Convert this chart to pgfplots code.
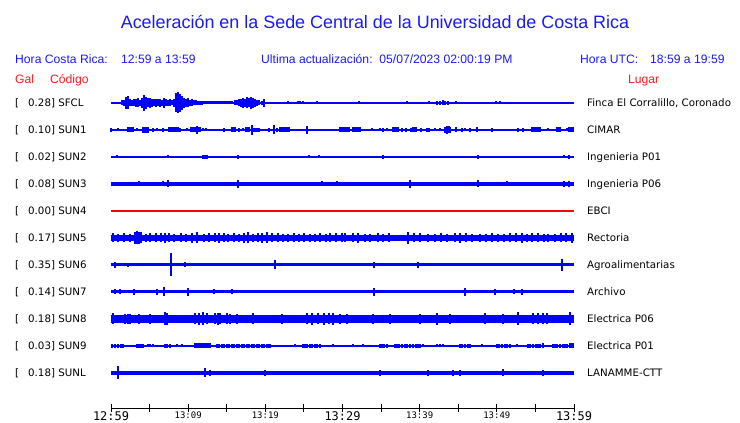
\documentclass[border=0pt]{standalone}
\usepackage{fontspec}
\usepackage{pgfplots}
\usepackage{pgfplotstable}
\pgfplotsset{compat=1.18}
\setmainfont{Liberation Sans}
\newfontfamily\dv{DejaVu Sans}
\newfontfamily\dvm{DejaVu Sans Mono}
\definecolor{tb}{RGB}{25,25,255}
\definecolor{tr}{RGB}{255,25,25}
\definecolor{sb}{RGB}{0,0,255}
\definecolor{sr}{RGB}{255,0,0}

% amplitude envelopes (t in minutes after 12:59, a = half amplitude in px)
\pgfplotstableread{
t a
1.39 2.5
1.65 3
1.91 6
2.17 6.5
2.43 3.5
2.69 3
2.95 3.5
3.21 4
3.47 4.5
3.73 3
3.99 5
4.25 8
4.51 6
4.77 4.5
5.03 5
5.29 4
5.55 3.5
5.81 4
6.07 3.5
6.33 4
6.59 3
6.85 5
7.11 3.5
7.37 3
7.63 3.5
7.89 2.5
8.15 4
8.41 9.5
8.67 10.5
8.93 9
9.19 7
9.45 5
9.71 4
9.97 4.5
10.23 3
10.49 3.5
10.75 2.5
11.01 2.5
11.27 2
11.53 2
11.79 2
16.07 2.5
16.33 2.5
16.59 3.5
16.85 4
17.11 5
17.37 4
17.63 5.5
17.89 4.5
18.15 6
18.41 5
18.67 4
18.93 3
19.19 2.5
19.57 2
19.83 4
22.94 1.5
24.24 1.5
24.49 1.5
24.88 1.5
26.70 1.5
27.09 1.2
32.14 1.5
38.36 1.5
41.21 1.5
42.25 2
42.64 2
43.03 2.5
43.29 2
43.68 2
44.71 1.5
49.90 1.5
50.41 1.5
}\sfcl

\pgfplotstableread{
t a
0 2
0.91 1.5
2.20 2.5
2.46 2.5
2.72 2.5
2.85 2.5
3.37 1.5
4.15 3
4.41 3
4.67 3
4.80 3
5.44 2
5.96 1.5
6.74 2
7.52 2.5
7.78 2.5
8.04 2.5
8.29 2.5
8.55 2.5
8.68 2.5
8.94 2
9.85 1.5
10.37 2.5
10.63 2.5
10.89 2.5
11.15 4
11.41 2.5
11.53 2.5
11.92 1.5
12.31 1.5
14.64 2
15.68 2.5
15.94 2.5
16.07 2.5
16.59 2
17.11 1.5
17.50 2.5
17.76 2.5
17.88 2.5
18.27 5
18.53 2
18.79 2
18.92 2
19.18 2
20.48 2
21.12 4.5
21.51 2
21.90 2.5
22.16 2.5
22.29 2.5
22.55 2.5
22.81 2.5
23.07 2.5
25.40 4
29.68 2.5
29.94 2.5
30.20 2.5
30.46 2.5
30.72 2.5
30.84 2.5
31.36 2.5
31.62 2.5
31.88 2.5
32.14 2.5
32.27 2.5
33.83 1.5
34.86 1.5
35.25 2
35.77 1.5
36.55 2.5
36.81 2.5
37.07 2.5
37.20 2.5
37.71 2
38.23 2
38.88 2
39.14 2.5
39.40 2.5
39.53 2.5
40.18 2
40.95 2
41.21 2
41.99 1.5
42.64 1.5
43.29 3
43.55 4
43.81 3.5
43.93 3
44.71 2.5
45.49 2
45.88 1.5
46.53 2
47.43 2.5
49.38 2
52.75 2
53.40 2
54.56 2.5
54.82 2.5
55.08 2.5
55.34 2.5
55.60 2.5
56.64 1.5
57.80 2.5
58.06 2.5
58.19 2.5
59.10 1.5
59.36 2.5
59.62 2.5
59.88 2.5
}\sunone

\pgfplotstableread{
t a
0.78 1.5
3.37 1
3.89 1
7.39 1.5
11.92 2
12.18 2
12.44 2
16.46 2
19.57 1
25.66 1.5
26.96 1.5
35.25 2
47.56 2
51.32 1
58.71 1.5
59.36 2
}\suntwo

\pgfplotstableread{
t a
3.63 2.5
6.74 2.5
7.39 3.5
16.46 4
27.35 2.5
29.29 2.5
38.75 4
47.56 3.5
51.32 2.5
58.71 3
59.36 3
}\sunthree

\pgfplotstableread{
t a
0.26 4.5
0.91 4
1.68 4.5
2.46 4
3.11 6
3.37 6.5
3.63 6
3.89 5.5
4.54 4
5.05 4.5
5.83 4.5
6.48 4.5
7.00 5
7.52 4.5
8.16 4
9.07 4.5
9.72 4
10.50 5
11.15 5.5
12.05 4
12.70 4.5
13.48 4.5
14.00 5
14.64 4.5
15.16 4
15.94 4.5
16.59 4
17.24 5
17.76 5.5
18.40 4
19.05 4.5
19.57 5
20.22 5.5
20.87 4.5
21.64 4.5
22.29 4
22.94 4
23.72 4.5
24.36 4
25.01 4.5
25.79 4
26.44 4
27.09 4.5
27.86 4
28.38 4.5
29.16 4.5
29.94 4.5
30.33 4.5
31.36 4.5
32.01 5
32.92 4
33.57 4
34.60 4.5
35.25 4
36.03 4.5
38.49 6
39.27 4.5
40.05 4.5
41.08 4
41.99 4
42.77 4.5
43.55 4
44.58 4.5
45.23 5
46.01 4.5
46.79 4
47.82 4
48.60 4
49.38 4.5
50.16 4
50.93 4
51.71 4.5
52.49 4.5
53.27 5
53.91 4
54.56 4.5
55.34 4.5
56.12 4
56.64 4
57.54 4
58.32 4.5
58.97 4.5
59.75 5
}\sunfive

\pgfplotstableread{
t a
0.52 3
2.20 2
7.78 11.5
9.59 2.5
21.25 4.5
34.08 3
39.79 3
58.45 6.3
}\sunsix

\pgfplotstableread{
t a
0.52 2.5
1.17 2.5
2.98 3
5.96 3
6.87 4.5
9.98 4
13.35 2.5
15.68 2.5
34.08 4
45.88 4
49.77 3
52.23 2.5
53.27 3
}\sunseven

\pgfplotstableread{
t a
0.26 5.5
1.81 5
2.20 5
2.46 5
3.63 5
5.05 5
7.00 6.5
7.26 6
10.89 5.5
11.40 6
11.92 6.5
12.44 5.5
13.48 5.5
13.87 6
14.13 5.5
15.03 5.5
15.42 5
16.33 5
18.40 5.5
22.16 5
25.40 5.5
26.05 6
26.83 5.5
27.60 6
28.25 5.5
28.77 6
29.68 5
30.59 5
33.96 5
36.16 5
40.05 5
42.25 6
43.93 5
48.47 5.5
50.80 5
52.75 6.5
54.69 5.5
55.34 5.5
55.99 5.5
56.51 5.5
59.49 6.5
}\suneight

\pgfplotstableread{
t a
0.13 2
0.52 2
0.91 2
1.30 2
1.56 2
3.37 2
3.63 2
3.89 2
4.15 2
4.80 1.5
5.05 1.5
5.44 1.5
7.00 2
7.26 2
7.65 2
8.55 1.5
9.20 1.5
10.89 2.5
11.15 2.5
11.41 2.5
11.67 2.5
11.92 2.5
12.18 2.5
12.44 2.5
12.70 2.5
12.83 2.5
13.74 2
14.00 2
14.39 2
14.64 2
15.03 2
15.29 2
15.68 2
15.94 2
16.33 2
16.59 2
16.98 2
17.24 2
17.63 2
17.89 2
18.27 2
18.53 2
18.92 2
19.18 2
19.57 2
19.83 2
20.22 2
20.48 2
20.61 2
23.85 1.5
24.88 2
25.14 2
25.40 2
25.79 2
26.05 2
26.44 2
26.70 2
27.09 2
28.77 1.5
31.36 1.5
32.66 1.5
34.86 2
35.12 2
35.38 2
35.77 2
36.81 2
37.07 2
37.33 2
37.71 2
38.10 2
38.36 2
38.75 2
39.14 2
39.53 2
39.79 2
40.05 2
40.44 1.5
42.25 1.5
42.64 1.5
43.03 1.5
45.23 2
45.49 2
45.88 2
46.27 2
46.53 2
48.08 1.5
50.03 2
50.29 2
50.67 2
51.06 2
51.32 2
51.71 2
52.62 1.5
54.04 2
54.30 2
54.69 2
55.08 2
55.34 2
55.60 2
55.99 2.5
57.28 2
57.54 2
57.80 2
58.19 2
58.58 2
58.84 2
59.10 2
59.49 2.5
59.75 2.5
59.88 2.5
}\sunnine

\pgfplotstableread{
t a
0.91 6.5
12.18 4.5
12.83 3
19.96 3
34.86 3
41.08 3
44.32 3
45.23 3
50.80 3.5
55.99 3
}\sunl

\pgfplotsset{
  base/.style={sb, line width=#1, no marks},
  spk/.style={draw=none, no marks,
    error bars/.cd, y dir=both, y explicit, error mark=none,
    error bar style={draw=sb, line width=#1}},
}

\begin{document}
\begin{tikzpicture}
\useasboundingbox (0,0) rectangle (740bp,423bp);
\begin{axis}[at={(0,0)}, anchor=south west, scale only axis,
  width=740bp, height=423bp,
  xmin=-14.384, xmax=81.512, ymin=0, ymax=423,
  hide axis, clip=false]
% SFCL
\addplot[base=1.2bp] coordinates {(0,320) (60,320)};
\addplot[base=3bp] coordinates {(11.92,320) (15.81,320)};
\addplot[spk=2.2bp] table[x=t, y expr=320, y error=a] {\sfcl};
% SUN1
\addplot[base=1.2bp] coordinates {(0,293) (60,293)};
\addplot[spk=2bp] table[x=t, y expr=293, y error=a] {\sunone};
% SUN2
\addplot[base=1.2bp] coordinates {(0,266) (60,266)};
\addplot[spk=1.2bp] table[x=t, y expr=266, y error=a] {\suntwo};
% SUN3
\addplot[base=3.6bp] coordinates {(0,239) (60,239)};
\addplot[spk=1.2bp] table[x=t, y expr=239, y error=a] {\sunthree};
% SUN4
\addplot[sr, line width=1.1bp, no marks] coordinates {(0,212) (60,212)};
% SUN5
\addplot[base=6.5bp] coordinates {(0,185) (60,185)};
\addplot[spk=1.2bp] table[x=t, y expr=185, y error=a] {\sunfive};
% SUN6
\addplot[base=3bp] coordinates {(0,158) (60,158)};
\addplot[spk=1.3bp] table[x=t, y expr=158, y error=a] {\sunsix};
% SUN7
\addplot[base=3bp] coordinates {(0,131) (60,131)};
\addplot[spk=1.3bp] table[x=t, y expr=131, y error=a] {\sunseven};
% SUN8
\addplot[base=8bp] coordinates {(0,104) (60,104)};
\addplot[spk=1.2bp] table[x=t, y expr=104, y error=a] {\suneight};
% SUN9
\addplot[base=1.2bp] coordinates {(0,77) (60,77)};
\addplot[spk=2bp] table[x=t, y expr=77, y error=a] {\sunnine};
% SUNL
\addplot[base=3.4bp] coordinates {(0,50) (60,50)};
\addplot[spk=1.3bp] table[x=t, y expr=50, y error=a] {\sunl};
\end{axis}

% time axis
\begin{axis}[at={(111bp,15bp)}, anchor=south west, scale only axis,
  width=463bp, height=10bp, xmin=0, xmax=60, ymin=0, ymax=1,
  axis x line=bottom, axis y line=none,
  x axis line style={-, line width=1bp, black},
  xtick={0,5,...,60}, major tick length=8bp,
  tick style={black, line width=1bp},
  xticklabels={
    {\dvm\fontsize{12}{13}\selectfont 12:59},{},
    {\dvm\fontsize{9}{10}\selectfont 13:09},{},
    {\dvm\fontsize{9}{10}\selectfont 13:19},{},
    {\dvm\fontsize{12}{13}\selectfont 13:29},{},
    {\dvm\fontsize{9}{10}\selectfont 13:39},{},
    {\dvm\fontsize{9}{10}\selectfont 13:49},{},
    {\dvm\fontsize{12}{13}\selectfont 13:59}},
  xticklabel style={inner sep=0pt, yshift=0.4bp}]
\addplot[draw=none] coordinates {(0,0)};
\end{axis}

% title and headers
\node[text=tb, font=\fontsize{18}{20}\selectfont] at (375bp,401bp)
  {Aceleración en la Sede Central de la Universidad de Costa Rica};
\begin{scope}[every node/.style={anchor=base west, inner sep=0pt, text=tb, font=\fontsize{12.2}{14}\selectfont}]
\node at (15bp,359bp) {Hora Costa Rica:};
\node at (121bp,359bp) {12:59 a 13:59};
\node at (261bp,359bp) {Ultima actualización:\ \ 05/07/2023 02:00:19 PM};
\node at (580bp,359bp) {Hora UTC:};
\node at (650bp,359bp) {18:59 a 19:59};
\end{scope}
\begin{scope}[every node/.style={anchor=base west, inner sep=0pt, text=tr, font=\fontsize{12.2}{14}\selectfont}]
\node at (15bp,339bp) {Gal};
\node at (50bp,339bp) {Código};
\node at (628bp,339bp) {Lugar};
\end{scope}
\begin{scope}[every node/.style={anchor=base west, inner sep=0pt, text=black, font=\dv\fontsize{10.3}{12}\selectfont}]
\foreach \yy/\vv/\cc/\ll in {
  320/0.28/SFCL/{Finca El Corralillo, Coronado},
  293/0.10/SUN1/CIMAR,
  266/0.02/SUN2/Ingenieria P01,
  239/0.08/SUN3/Ingenieria P06,
  212/0.00/SUN4/EBCI,
  185/0.17/SUN5/Rectoria,
  158/0.35/SUN6/Agroalimentarias,
  131/0.14/SUN7/Archivo,
  104/0.18/SUN8/Electrica P06,
  77/0.03/SUN9/Electrica P01,
  50/0.18/SUNL/LANAMME-CTT}{
  \node at (15bp,\yy bp-3.8bp) {[};
  \node at (28bp,\yy bp-3.8bp) {\vv] \cc};
  \node at (587bp,\yy bp-3.8bp) {\ll};
}
\end{scope}
\end{tikzpicture}
\end{document}
